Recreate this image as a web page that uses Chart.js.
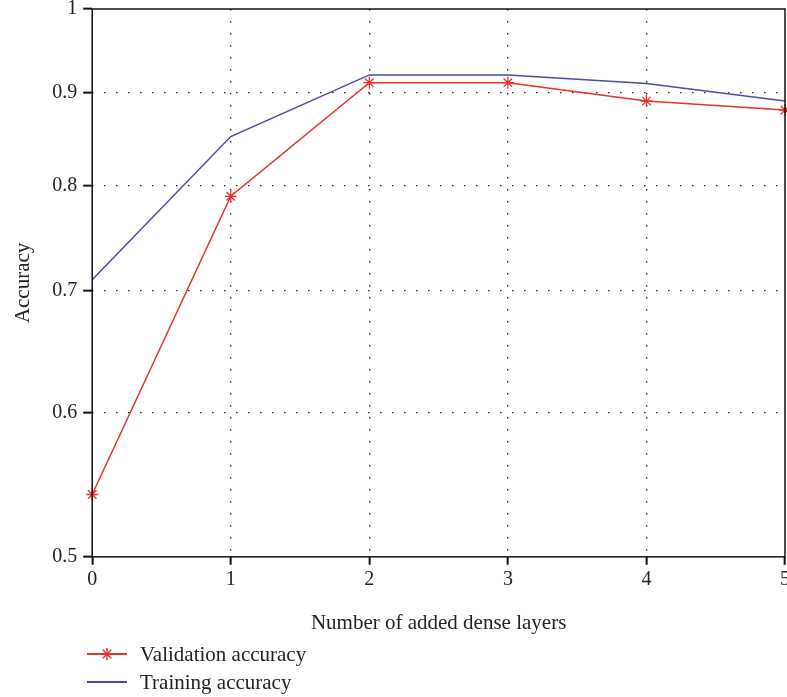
<!DOCTYPE html>
<html>
<head>
<meta charset="utf-8">
<script src="https://cdn.jsdelivr.net/npm/chart.js@4"></script>
<style>
  body { margin: 0; background: #fff; font-family: "Liberation Serif", serif; }
  #wrap { position: relative; width: 787px; height: 697px; overflow: hidden; }
  #c { position: absolute; left: 0; top: -9px; }
  .leg { position: absolute; left: 87px; font-size: 21px; color: #222; height: 26px; line-height: 26px; white-space: nowrap; }
  .leg svg { position: absolute; left: 0; top: 0; }
  .leg span.t { margin-left: 53px; }
</style>
</head>
<body>
<div id="wrap">
  <canvas id="c" width="793" height="706"></canvas>
  <div class="leg" style="top:641px">
    <svg width="42" height="26"><line x1="0" y1="13" x2="40" y2="13" stroke="#e5322a" stroke-width="2"/>
      <g stroke="#e5322a" stroke-width="1.4"><line x1="20" y1="7" x2="20" y2="19"/><line x1="14" y1="13" x2="26" y2="13"/><line x1="15.8" y1="8.8" x2="24.2" y2="17.2"/><line x1="24.2" y1="8.8" x2="15.8" y2="17.2"/></g></svg>
    <span class="t">Validation accuracy</span></div>
  <div class="leg" style="top:669px">
    <svg width="42" height="26"><line x1="0" y1="13" x2="40" y2="13" stroke="#4a4aa8" stroke-width="2"/></svg>
    <span class="t">Training accuracy</span></div>
</div>
<script>
// data
const layers = [0, 1, 2, 3, 4, 5];
const validationAcc = [0.541, 0.789, 0.911, 0.911, 0.890, 0.880];
const trainingAcc = [0.710, 0.851, 0.920, 0.920, 0.910, 0.890];
const yTicks = [0.5, 0.6, 0.7, 0.8, 0.9, 1];

const red = '#e5322a';
const blue = '#4a4aa8';
const textCol = '#222';
const serif = '"Liberation Serif", serif';

// closing box around plot area
const boxPlugin = {
  id: 'box',
  afterDatasetsDraw(chart) {
    const a = chart.chartArea, c = chart.ctx;
    c.save();
    c.strokeStyle = '#111';
    c.lineWidth = 1.5;
    c.strokeRect(a.left, a.top, a.right - a.left, a.bottom - a.top);
    c.restore();
  }
};

function edgeColor(ctx, n) {
  return (ctx.index === 0 || ctx.index === n - 1) ? 'rgba(0,0,0,0)' : '#222';
}

new Chart(document.getElementById('c'), {
  type: 'line',
  data: {
    datasets: [{
      label: 'Validation accuracy',
      data: layers.map((x, i) => ({ x: x, y: validationAcc[i] })),
      borderColor: red,
      backgroundColor: red,
      borderWidth: 1.5,
      pointStyle: 'star',
      pointRadius: 6,
      pointBorderWidth: 1.3,
      pointBorderColor: red,
      tension: 0
    }, {
      label: 'Training accuracy',
      data: layers.map((x, i) => ({ x: x, y: trainingAcc[i] })),
      borderColor: blue,
      borderWidth: 1.5,
      pointRadius: 0,
      tension: 0
    }]
  },
  options: {
    responsive: false,
    animation: false,
    clip: false,
    layout: { padding: { left: 7, top: 0, right: 0, bottom: 57 } },
    plugins: { legend: { display: false }, tooltip: { enabled: false } },
    scales: {
      x: {
        type: 'linear',
        min: 0, max: 5,
        border: { display: false, dash: [1.5, 10.5] },
        grid: {
          color: ctx => edgeColor(ctx, 6),
          lineWidth: 1.3,
          tickColor: '#111',
          tickWidth: 2,
          tickLength: 8,
          tickBorderDash: []
        },
        ticks: {
          stepSize: 1,
          color: textCol,
          padding: 3,
          font: { family: serif, size: 20 }
        },
        title: {
          display: true,
          text: 'Number of added dense layers',
          color: textCol,
          padding: { top: 16 },
          font: { family: serif, size: 21 }
        }
      },
      y: {
        type: 'logarithmic',
        min: 0.5, max: 1,
        border: { display: false, dash: [1.5, 10.5] },
        afterBuildTicks(scale) { scale.ticks = yTicks.map(v => ({ value: v })); },
        grid: {
          color: ctx => edgeColor(ctx, yTicks.length),
          lineWidth: 1.3,
          tickColor: '#111',
          tickWidth: 2,
          tickLength: 9,
          tickBorderDash: []
        },
        ticks: {
          color: textCol,
          padding: 6,
          font: { family: serif, size: 20 },
          callback: v => String(v)
        },
        title: {
          display: true,
          text: 'Accuracy',
          color: textCol,
          padding: { bottom: 10 },
          font: { family: serif, size: 21 }
        }
      }
    }
  },
  plugins: [boxPlugin]
});
</script>
</body>
</html>
